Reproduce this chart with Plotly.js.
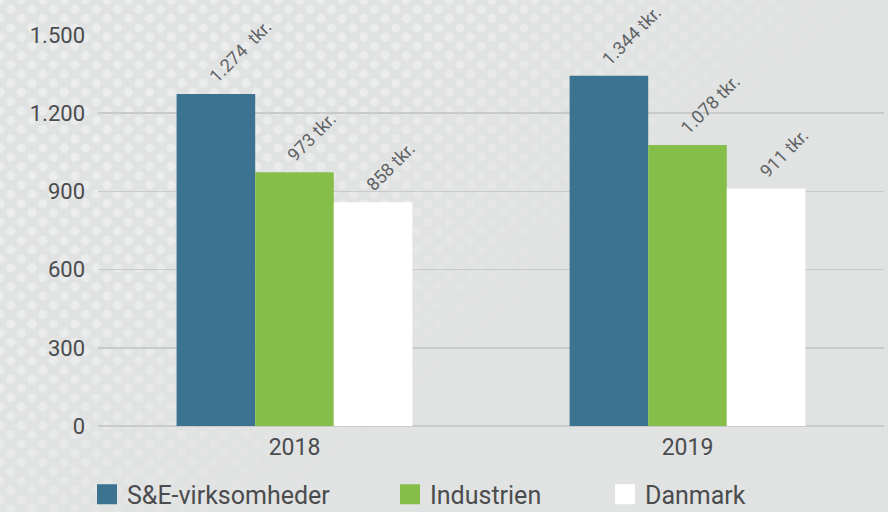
<!DOCTYPE html>
<html>
<head>
<meta charset="utf-8">
<script src="https://cdn.plot.ly/plotly-3.0.1.min.js"></script>
<style>
  html, body { margin: 0; padding: 0; width: 888px; height: 512px; overflow: hidden; background: #e1e2e2; }
  #bgdots {
    position: absolute; left: 0; top: 0; width: 888px; height: 512px;
    background-image:
      radial-gradient(circle, #ebecec 4.3px, rgba(235,236,236,0) 4.8px),
      radial-gradient(circle, #ebecec 4.3px, rgba(235,236,236,0) 4.8px);
    background-size: 21.4px 18.5px;
    background-position: 0 0, 10.7px 9.25px;
    -webkit-mask-image: linear-gradient(140deg, rgba(0,0,0,1) 0%, rgba(0,0,0,0.95) 32%, rgba(0,0,0,0) 60%);
    mask-image: linear-gradient(140deg, rgba(0,0,0,1) 0%, rgba(0,0,0,0.95) 32%, rgba(0,0,0,0) 60%);
  }
  #chart { position: absolute; left: 0; top: 0; width: 888px; height: 512px; }
</style>
</head>
<body>
<div id="bgdots"></div>
<div id="chart"></div>
<script>
const years = ["2018", "2019"];
const seriesNames = ["S&E-virksomheder", "Industrien", "Danmark"];
const seValues = [1274, 1344];
const industrienValues = [973, 1078];
const danmarkValues = [858, 911];
const seLabels = ["1.274  tkr.", "1.344 tkr."];
const industrienLabels = ["973 tkr.", "1.078 tkr."];
const danmarkLabels = ["858 tkr.", "911 tkr."];
const yTickVals = [0, 300, 600, 900, 1200, 1500];

const colors = ["#3b7391", "#86be4a", "#ffffff"];
const allValues = [seValues, industrienValues, danmarkValues];
const allLabels = [seLabels, industrienLabels, danmarkLabels];
const legendIds = ["legend", "legend2", "legend3"];
const legendX = [87, 390, 605];

const fontFamily = "Roboto, 'DejaVu Sans', sans-serif";
const bargap = 0.4;
const nSeries = allValues.length;
const barW = (1 - bargap) / nSeries;

const traces = allValues.map((vals, i) => ({
  type: "bar",
  name: seriesNames[i],
  x: years,
  y: vals,
  marker: { color: colors[i] },
  showlegend: false,
  hoverinfo: "skip"
}));

// legend-only entries (larger square swatches)
seriesNames.forEach((name, i) => {
  traces.push({
    type: "scatter",
    mode: "markers",
    name: name,
    x: [null], y: [null],
    marker: { symbol: "square", size: 16, color: colors[i], line: { width: 4, color: colors[i] } },
    legend: legendIds[i],
    showlegend: true,
    hoverinfo: "skip"
  });
});

const annotations = [];
allValues.forEach((vals, i) => {
  vals.forEach((v, j) => {
    annotations.push({
      xref: "x", yref: "y",
      x: j + (i - (nSeries - 1) / 2) * barW,
      y: v,
      text: allLabels[i][j],
      showarrow: false,
      textangle: -45,
      xanchor: "left", yanchor: "bottom",
      xshift: -14, yshift: 4,
      font: { family: fontFamily, size: 18, color: "#5f6264" }
    });
  });
});

const legendFont = { family: fontFamily, size: 25, color: "#4a4c4e" };
const makeLegend = (xpx) => ({
  orientation: "h",
  xref: "container", yref: "container",
  x: xpx / 888, y: 0.034,
  xanchor: "left", yanchor: "middle",
  font: legendFont,
  itemwidth: 30,
  bgcolor: "rgba(0,0,0,0)"
});

const layout = {
  width: 888, height: 512,
  margin: { l: 98, r: 4, t: 35, b: 86 },
  paper_bgcolor: "rgba(0,0,0,0)",
  plot_bgcolor: "rgba(0,0,0,0)",
  separators: ",.",
  barmode: "group",
  bargap: bargap,
  bargroupgap: 0,
  font: { family: fontFamily, color: "#4a4c4e" },
  xaxis: {
    type: "category",
    showgrid: false, zeroline: false, showline: false,
    ticks: "",
    tickfont: { family: fontFamily, size: 23, color: "#4a4c4e" },
    ticklabelstandoff: 5
  },
  yaxis: {
    range: [0, 1500],
    tickvals: yTickVals,
    tickformat: ",d",
    showgrid: true, gridcolor: "#c9caca", gridwidth: 1.5,
    zeroline: true, zerolinecolor: "#c9caca", zerolinewidth: 1.5,
    showline: false, ticks: "",
    tickfont: { family: fontFamily, size: 22, color: "#4a4c4e" },
    ticklabelstandoff: 12
  },
  showlegend: true,
  legend: makeLegend(legendX[0]),
  legend2: makeLegend(legendX[1]),
  legend3: makeLegend(legendX[2]),
  annotations: annotations
};

Plotly.newPlot("chart", traces, layout, { displayModeBar: false, staticPlot: true });
</script>
</body>
</html>
